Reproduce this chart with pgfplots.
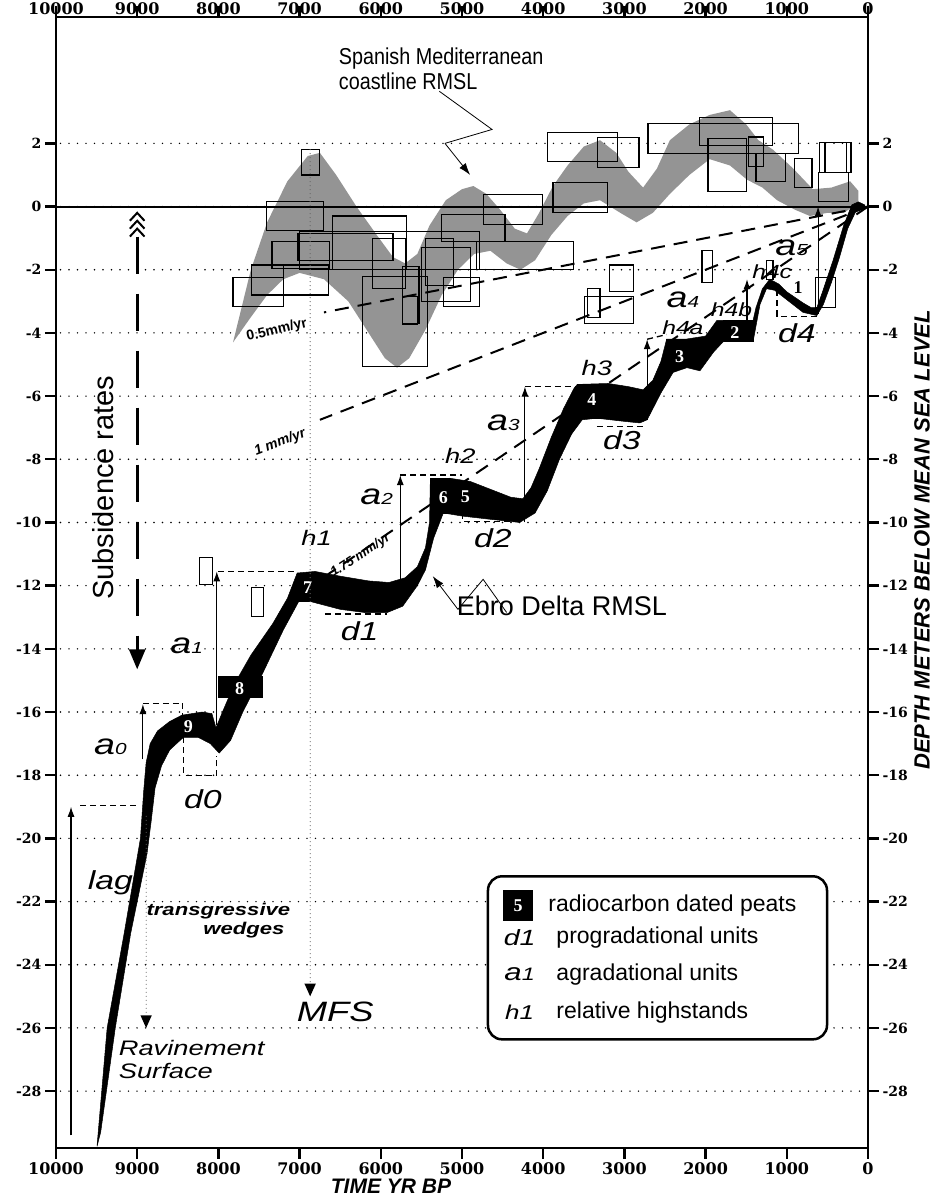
\documentclass[border=0pt]{standalone}
\usepackage{fontspec}
\setmainfont{Liberation Sans}
\newfontfamily\narrowf{Liberation Sans}[FakeStretch=0.86]
\newfontfamily\widef{Liberation Sans}[FakeStretch=1.3]
\newfontfamily\seriff{Liberation Serif}
\newfontfamily\tickf{DejaVu Serif}
\usepackage{pgfplots}
\pgfplotsset{compat=1.18}
\usetikzlibrary{arrows.meta}
\newcommand\fs[1]{\fontsize{#1}{#1}\selectfont}
\newcommand\sqbox[4]{\addplot[draw=black, line width=1.1pt] coordinates {(#1,#3) (#2,#3) (#2,#4) (#1,#4)} -- cycle;}
\newcommand\peatbox[4]{\addplot[draw=black, fill=black, line width=0.5pt] coordinates {(#1,#3) (#2,#3) (#2,#4) (#1,#4)} -- cycle;}
\newcommand\ital[2]{{\widef\itshape\fs{#2}#1}}
\newcommand\alab[1]{{\widef\itshape\fs{29}a\fs{16}#1}}
\newcommand\pnum[1]{{\seriff\bfseries\fs{18}#1}}
\tikzset{
  uparrow/.style={line width=1.1pt, -{Latex[length=10pt,width=7pt]}},
  dsh/.style={line width=1.3pt, dash pattern=on 6pt off 4pt},
  rate/.style={line width=2pt, dash pattern=on 14pt off 9pt},
  dotv/.style={line width=1.2pt, dash pattern=on 0pt off 4pt, line cap=round, gray!80!black},
}
\begin{document}
\begin{tikzpicture}
\pgfplotsset{
  common/.style={
    at={(56pt,56pt)}, anchor=south west, scale only axis,
    width=812pt, height=1131pt,
    xmin=0, xmax=10000, ymin=-29.8, ymax=6, x dir=reverse,
    xtick={0,1000,...,10000}, ytick={-28,-26,...,2},
    scaled x ticks=false, scaled y ticks=false,
    tick align=outside, major tick length=11pt,
    tick style={line width=2.4pt, black},
    axis line style={line width=2.6pt},
    /pgf/number format/1000 sep={},
    /pgf/number format/assume math mode=true,
    xticklabel style={font=\tickf\bfseries\fs{16}},
    yticklabel style={font=\tickf\bfseries\fs{14}},
  }
}
% second axis for top/right labels
\begin{axis}[common, xticklabel pos=upper, yticklabel pos=right,
  xticklabel style={yshift=-12pt}]
\end{axis}
\begin{axis}[common, set layers, clip=true,
  ymajorgrids, grid style={black, line width=1.6pt, dash pattern=on 0pt off 8.5pt, line cap=round}]
% Spanish Mediterranean coastline RMSL band
\addplot[fill=black!42, draw=none] coordinates {
(7820,-4.3) (7600,-2.0) (7400,-0.5) (7150,0.8) (6900,1.6) (6750,1.7) (6550,1.0) (6300,0.0)
(6050,-0.9) (5850,-1.6) (5700,-1.8) (5550,-1.5) (5400,-0.6) (5200,0.2) (5000,0.55) (4860,0.65)
(4700,0.4) (4530,-0.1) (4350,-0.7) (4200,-0.85) (4050,-0.2) (3880,0.65) (3700,1.3) (3500,1.9)
(3300,2.1) (3100,1.7) (2950,1.1) (2770,0.6) (2600,1.2) (2440,2.1) (2200,2.6) (1950,2.9)
(1700,3.05) (1500,2.6) (1350,2.1) (1170,1.8) (920,1.2) (680,0.55) (450,0.6) (220,0.8) (120,0.5)
(120,0.1) (300,-0.2) (500,-0.2) (715,-0.3) (900,-0.1) (1120,0.2) (1300,0.6) (1490,0.85)
(1700,1.3) (1950,1.5) (2200,1.0) (2440,0.4) (2650,-0.2) (2850,-0.5) (3050,-0.2) (3300,0.2)
(3500,0.1) (3700,-0.3) (3900,-0.9) (4100,-1.7) (4280,-2.0) (4450,-1.8) (4650,-1.4) (4850,-1.5)
(5050,-2.0) (5250,-2.8) (5450,-3.9) (5650,-4.8) (5800,-5.1) (5950,-4.8) (6150,-4.0) (6400,-3.0)
(6700,-2.3) (7000,-2.1) (7200,-2.3) (7400,-2.8) (7600,-3.5)
} -- cycle;
% calibrated sample boxes
\sqbox{6980}{6750}{1.8}{1.0}
\sqbox{7410}{6710}{0.16}{-0.76}
\sqbox{6590}{5680}{-0.3}{-2.0}
\sqbox{7020}{5850}{-0.85}{-1.7}
\sqbox{7340}{6630}{-1.1}{-1.95}
\sqbox{7590}{7200}{-1.85}{-2.8}
\sqbox{7820}{7200}{-2.25}{-3.15}
\sqbox{7590}{6640}{-1.85}{-2.8}
\sqbox{6230}{5420}{-2.2}{-5.06}
\sqbox{5730}{5530}{-1.9}{-3.7}
\sqbox{4740}{4010}{0.38}{-0.57}
\sqbox{5250}{4470}{-0.25}{-1.1}
\sqbox{4820}{3630}{-1.1}{-2.0}
\sqbox{5230}{4780}{-2.25}{-3.15}
\sqbox{7000}{4780}{-0.8}{-2.0}
\sqbox{5730}{5550}{-2.85}{-3.73}
\sqbox{6100}{5700}{-1.0}{-2.6}
\sqbox{5450}{5100}{-1.0}{-2.5}
\sqbox{5500}{4900}{-1.3}{-3.0}
\sqbox{3950}{3080}{2.34}{1.42}
\sqbox{3330}{2820}{2.18}{1.23}
\sqbox{3880}{3210}{0.76}{-0.19}
\sqbox{2710}{860}{2.63}{1.68}
\sqbox{2080}{1180}{2.82}{1.93}
\sqbox{1970}{1500}{2.15}{0.47}
\sqbox{1470}{1290}{2.2}{1.27}
\sqbox{1380}{1020}{1.68}{0.79}
\sqbox{910}{690}{1.52}{0.6}
\sqbox{600}{210}{2.03}{1.08}
\sqbox{530}{260}{2.03}{1.08}
\sqbox{615}{245}{1.08}{0.16}
\sqbox{3180}{2890}{-1.85}{-2.7}
\sqbox{3490}{2890}{-2.85}{-3.7}
\sqbox{3460}{3300}{-2.6}{-3.5}
\sqbox{2045}{1910}{-1.4}{-2.4}
\sqbox{1245}{1170}{-1.7}{-2.3}
\sqbox{650}{405}{-2.25}{-3.2}
\sqbox{8230}{8070}{-11.1}{-11.95}
\sqbox{7590}{7450}{-12.05}{-12.97}
% Ebro Delta RMSL band
\addplot[fill=black, draw=black, line width=0.5pt] coordinates {
(9495,-29.75) (9370,-26) (9160,-23) (8960,-20) (8920,-18.5) (8890,-17.6) (8840,-17.0) (8750,-16.6)
(8600,-16.3) (8450,-16.1) (8200,-16.0) (8080,-16.05) (8030,-16.5) (7950,-16.0) (7800,-15.1)
(7600,-14.2) (7330,-13.2) (7150,-12.4) (7030,-11.6) (6810,-11.55) (6500,-11.7) (6150,-11.85)
(5900,-11.9) (5700,-11.75) (5550,-11.4) (5450,-10.8) (5400,-10.0) (5390,-8.65) (5150,-8.6)
(4900,-8.7) (4650,-8.95) (4400,-9.2) (4250,-9.25) (4150,-8.9) (4050,-8.3) (3900,-7.3) (3750,-6.4)
(3620,-5.75) (3580,-5.63) (3200,-5.6) (2950,-5.7) (2770,-5.8) (2650,-5.5) (2550,-4.9) (2480,-4.2)
(2250,-4.2) (2000,-4.1) (1860,-3.6) (1415,-3.6) (1380,-3.2) (1300,-2.6) (1210,-2.3) (1100,-2.45)
(1000,-2.7) (800,-3.05) (700,-3.2) (630,-3.2) (560,-2.7) (430,-1.7) (300,-0.6) (200,0.05)
(120,0.15) (40,0.05)
(40,-0.05) (150,-0.15) (250,-0.7) (350,-1.6) (450,-2.4) (550,-3.1) (630,-3.45) (800,-3.35)
(1000,-2.95) (1150,-2.65) (1250,-2.6) (1330,-3.1) (1415,-4.27) (1780,-4.27) (1900,-4.6)
(2070,-5.2) (2230,-5.1) (2400,-5.25) (2550,-5.9) (2720,-6.75) (2810,-6.85) (3000,-6.8)
(3340,-6.7) (3520,-6.75) (3650,-7.2) (3800,-8.0) (3950,-9.0) (4100,-9.7) (4290,-10.0)
(4650,-9.9) (4990,-9.8) (5230,-9.7) (5350,-10.5) (5450,-11.5) (5550,-12.0) (5730,-12.65)
(5920,-12.85) (6200,-12.85) (6500,-12.75) (6870,-12.5) (7000,-12.45) (7200,-13.4) (7460,-14.8)
(7700,-16.0) (7850,-16.9) (7990,-17.3) (8100,-17.0) (8250,-16.8) (8430,-16.8) (8600,-17.2)
(8700,-17.7) (8780,-18.4) (8830,-19.5) (8880,-20.5) (9080,-23) (9270,-26) (9450,-29.3)
} -- cycle;
% radiocarbon dated peats
\peatbox{8005}{7460}{-14.87}{-15.54}
\peatbox{7030}{6810}{-11.6}{-12.5}
\peatbox{5390}{5150}{-8.6}{-9.7}
\peatbox{3580}{3200}{-5.63}{-6.7}
\peatbox{2480}{2230}{-4.2}{-5.06}
\peatbox{1780}{1415}{-3.6}{-4.27}
% subsidence rate lines
\addplot[rate] coordinates {(0,0) (6700,-3.35)};
\addplot[rate] coordinates {(0,0) (6750,-6.75)};
\addplot[rate] coordinates {(0,0) (6650,-11.64)};
% zero line
\addplot[black, line width=2pt] coordinates {(10000,0) (0,0)};

% peat numbers
\node[white] at (axis cs:8370,-16.45) {\pnum{9}};
\node[white] at (axis cs:7740,-15.25) {\pnum{8}};
\node[white] at (axis cs:6900,-12.05) {\pnum{7}};
\node[white] at (axis cs:5230,-9.2) {\pnum{6}};
\node[white] at (axis cs:4960,-9.17) {\pnum{5}};
\node[white] at (axis cs:3400,-6.1) {\pnum{4}};
\node[white] at (axis cs:2320,-4.75) {\pnum{3}};
\node[white] at (axis cs:1640,-4.0) {\pnum{2}};
\node[black] at (axis cs:860,-2.55) {\pnum{1}};

% rate labels
\node[rotate=13] at (axis cs:7280,-3.92) {\bfseries\fs{14}0.5mm/yr};
\node[rotate=21] at (axis cs:7240,-7.47) {\bfseries\itshape\fs{14}1 mm/yr};
\node[rotate=33] at (axis cs:6250,-11.05) {\bfseries\itshape\fs{13}1.75 mm/yr};

% lag
\draw[uparrow] (axis cs:9815,-29.4) -- (axis cs:9815,-19.0);
\draw[dsh] (axis cs:9700,-18.95) -- (axis cs:8970,-18.95);
\node at (axis cs:9330,-21.4) {\ital{lag}{26}};
% a0 / d0
\draw[uparrow] (axis cs:8930,-17.5) -- (axis cs:8930,-15.75);
\draw[dsh] (axis cs:8930,-15.72) -- (axis cs:8440,-15.72) -- (axis cs:8440,-16.1);
\draw[dsh] (axis cs:8430,-16.8) -- (axis cs:8430,-18.0) -- (axis cs:8020,-18.0) -- (axis cs:8020,-17.4);
\node at (axis cs:9330,-17.1) {\alab{0}};
\node at (axis cs:8190,-18.75) {\ital{d0}{26}};
% a1 / d1 / h1
\draw[uparrow] (axis cs:8020,-16.4) -- (axis cs:8020,-11.55);
\draw[dsh] (axis cs:8000,-11.55) -- (axis cs:7030,-11.55);
\node at (axis cs:8390,-13.9) {\alab{1}};
\node at (axis cs:6790,-10.5) {\ital{h1}{21}};
\draw[dsh] (axis cs:6690,-12.9) -- (axis cs:5920,-12.9);
\node at (axis cs:6260,-13.45) {\ital{d1}{26}};
% a2 / d2 / h2
\draw[uparrow] (axis cs:5760,-11.9) -- (axis cs:5760,-8.5);
\draw[dsh] (axis cs:5760,-8.5) -- (axis cs:5000,-8.5);
\node at (axis cs:6050,-9.2) {\alab{2}};
\draw[dsh] (axis cs:4990,-9.7) -- (axis cs:4990,-9.97) -- (axis cs:4250,-9.97);
\node at (axis cs:4620,-10.5) {\ital{d2}{26}};
\node at (axis cs:5020,-7.9) {\ital{h2}{21}};
% a3 / d3 / h3
\draw[uparrow] (axis cs:4225,-10.0) -- (axis cs:4225,-5.7);
\draw[dsh] (axis cs:4225,-5.7) -- (axis cs:3580,-5.7);
\node at (axis cs:4490,-6.85) {\alab{3}};
\node at (axis cs:3340,-5.1) {\ital{h3}{21}};
\draw[dsh] (axis cs:3340,-6.96) -- (axis cs:2770,-6.96);
\node at (axis cs:3030,-7.4) {\ital{d3}{26}};
% a4 / h4
\draw[uparrow] (axis cs:2720,-6.75) -- (axis cs:2720,-4.2);
\draw[dsh] (axis cs:2720,-4.2) -- (axis cs:2480,-4.05);
\node at (axis cs:2280,-3.83) {\ital{h4a}{19}};
\node at (axis cs:2280,-2.94) {\alab{4}};
\draw[uparrow] (axis cs:1490,-3.6) -- (axis cs:1490,-2.3);
\node at (axis cs:1680,-3.26) {\ital{h4b}{19}};
\node at (axis cs:1180,-2.05) {\ital{h4c}{19}};
% a5 / d4
\draw[uparrow] (axis cs:615,-3.4) -- (axis cs:615,0);
\node at (axis cs:940,-1.3) {\alab{5}};
\draw[dsh] (axis cs:1120,-2.65) -- (axis cs:1120,-3.47) -- (axis cs:630,-3.47);
\node at (axis cs:875,-4.0) {\ital{d4}{26}};

% MFS and ravinement
\draw[dotv] (axis cs:6870,1.8) -- (axis cs:6870,-24.7);
\fill (axis cs:6870,-25.0) -- (axis cs:6940,-24.6) -- (axis cs:6800,-24.6) -- cycle;
\node at (axis cs:6560,-25.5) {\ital{MFS}{28}};
\draw[dotv] (axis cs:8890,-19.3) -- (axis cs:8890,-25.6);
\fill (axis cs:8890,-26.0) -- (axis cs:8960,-25.6) -- (axis cs:8820,-25.6) -- cycle;
\node[anchor=west, align=left, font=\widef\itshape\fontsize{21}{23}\selectfont] at (axis cs:9270,-27.0) {Ravinement\\Surface};
\node[align=center, font=\widef\itshape\bfseries\fontsize{17}{19}\selectfont] at (axis cs:8000,-22.6) {transgressive\\\hspace*{3em}wedges};

% subsidence rates
\draw[line width=2.6pt, dash pattern=on 37pt off 20pt, -{Triangle[length=20pt,width=16pt]}] (axis cs:9000,-0.95) -- (axis cs:9000,-14.65);
\draw[line width=2pt] (axis cs:9090,-0.45) -- (axis cs:9000,-0.2) -- (axis cs:8910,-0.45);
\draw[line width=2pt] (axis cs:9090,-0.7) -- (axis cs:9000,-0.45) -- (axis cs:8910,-0.7);
\draw[line width=2pt] (axis cs:9090,-0.95) -- (axis cs:9000,-0.7) -- (axis cs:8910,-0.95);
\node[rotate=90] at (axis cs:9420,-8.9) {\fs{29}Subsidence rates};

% Spanish Mediterranean label and pointer
\node[anchor=north west, align=left, font=\narrowf\fontsize{23}{25}\selectfont] at (axis cs:6560,5.15) {Spanish Mediterranean\\coastline RMSL};
\draw[line width=0.8pt] (axis cs:5280,3.65) -- (axis cs:4630,2.44) -- (axis cs:5210,2.0);
\draw[line width=0.8pt, -{Latex[length=12pt,width=8pt]}] (axis cs:5210,2.0) -- (axis cs:4900,1.0);

% Ebro Delta RMSL label and pointer
\node at (axis cs:3770,-12.65) {\fs{27}Ebro Delta RMSL};
\draw[line width=0.8pt] (axis cs:4450,-12.85) -- (axis cs:4740,-11.8) -- (axis cs:5050,-12.75);
\draw[line width=0.8pt, -{Latex[length=12pt,width=8pt]}] (axis cs:5050,-12.75) -- (axis cs:5360,-11.7);

% legend
\draw[line width=2.5pt, rounded corners=14pt, fill=white] (axis cs:4680,-21.2) rectangle (axis cs:505,-26.36);
\fill (axis cs:4500,-21.63) rectangle (axis cs:4120,-22.61);
\node[white] at (axis cs:4310,-22.12) {\pnum{5}};
\node[anchor=west] at (axis cs:3980,-22.12) {\fs{23}radiocarbon dated peats};
\node at (axis cs:4290,-23.13) {\ital{d1}{22}};
\node[anchor=west] at (axis cs:3880,-23.13) {\fs{23}progradational units};
\node at (axis cs:4290,-24.3) {{\widef\itshape\fs{24}a\fs{18}1}};
\node[anchor=west] at (axis cs:3880,-24.3) {\fs{23}agradational units};
\node at (axis cs:4290,-25.5) {\ital{h1}{20}};
\node[anchor=west] at (axis cs:3880,-25.5) {\fs{23}relative highstands};
\end{axis}
\pgfresetboundingbox
\useasboundingbox (0pt,0pt) rectangle (943pt,1204pt);
% outer labels
\node at (391pt,18pt) {\bfseries\itshape\fs{21}TIME YR BP};
\node[rotate=90] at (922pt,664pt) {\bfseries\itshape\fs{22}DEPTH METERS BELOW MEAN SEA LEVEL};
\end{tikzpicture}
\end{document}
